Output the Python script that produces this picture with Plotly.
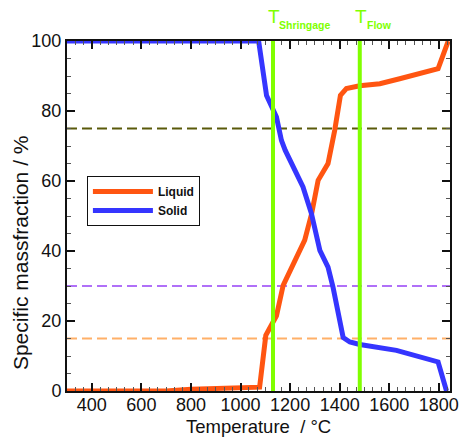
import plotly.graph_objects as go

# ---- data ----
liquid_T = [300, 700, 800, 1000, 1077, 1102, 1145, 1172, 1259, 1287, 1313, 1353, 1380, 1403, 1427, 1481, 1562, 1642, 1797, 1838]
liquid_pct = [0, 0, 0.5, 0.9, 1.1, 15.9, 21.5, 30.2, 43.1, 50.7, 60.2, 65.0, 74.5, 84.5, 86.4, 87.2, 87.8, 89.2, 92.1, 100]

solid_T = [300, 1073, 1105, 1125, 1145, 1165, 1180, 1252, 1286, 1320, 1353, 1373, 1398, 1414, 1441, 1481, 1629, 1797, 1831]
solid_pct = [100, 100, 84.4, 81.6, 78.3, 71.6, 68.8, 58.3, 50.7, 40.2, 35.4, 29.7, 20.2, 15.3, 14.0, 13.3, 11.6, 8.3, 0]

series_names = ["Liquid", "Solid"]
series_colors = ["#FF5511", "#3535FF"]

T_shrinkage = 1131
T_flow = 1481
marker_labels = ["Shringage", "Flow"]

ref_levels = [75, 30, 15]
ref_colors = ["#5A5A0A", "#B070F8", "#FFB068"]

x_range = [300, 1845]
y_range = [0, 100]

GREEN = "#80FF00"
FONT = "Liberation Sans, Arial, Helvetica, sans-serif"

fig = go.Figure()

fig.add_trace(go.Scatter(x=liquid_T, y=liquid_pct, mode="lines", name=series_names[0],
                         line=dict(color=series_colors[0], width=5)))
fig.add_trace(go.Scatter(x=solid_T, y=solid_pct, mode="lines", name=series_names[1],
                         line=dict(color=series_colors[1], width=5)))

# dashed reference levels
for lvl, col in zip(ref_levels, ref_colors):
    fig.add_shape(type="line", xref="paper", x0=0, x1=1, yref="y", y0=lvl, y1=lvl,
                  line=dict(color=col, width=2, dash="10px,5px"), layer="below")

# vertical temperature markers
for tv in [T_shrinkage, T_flow]:
    fig.add_shape(type="line", xref="x", x0=tv, x1=tv, yref="y", y0=0, y1=100,
                  line=dict(color=GREEN, width=4), layer="above")

# labels T_sub
for tv, lab, subshift in zip([T_shrinkage, T_flow], marker_labels, [4, 5]):
    fig.add_annotation(x=tv, xref="x", y=1.0686, yref="paper", text="T", showarrow=False,
                       xanchor="center", yanchor="middle", xshift=1,
                       font=dict(family=FONT, size=19, color=GREEN))
    fig.add_annotation(x=tv, xref="x", y=1.047, yref="paper", text="<b>" + lab + "</b>",
                       showarrow=False, xanchor="left", yanchor="middle", xshift=subshift,
                       font=dict(family=FONT, size=10.5, color=GREEN))

# axis titles as annotations
fig.add_annotation(x=0.4997, xref="paper", y=-0.1, yref="paper", text="Temperature  / °C",
                   showarrow=False, xanchor="center", yanchor="middle",
                   font=dict(family=FONT, size=18.5, color="#111111"))
fig.add_annotation(x=-0.1227, xref="paper", y=0.394, yref="paper", text="Specific massfraction / %",
                   showarrow=False, xanchor="center", yanchor="middle", textangle=-90,
                   font=dict(family=FONT, size=21, color="#111111"))

axis_common = dict(showline=True, linecolor="#111111", linewidth=2, mirror="ticks",
                   ticks="inside", ticklen=8, tickwidth=1.5, tickcolor="#111111",
                   showgrid=False, zeroline=False, automargin=False,
                   tickfont=dict(family=FONT, size=18, color="#111111"))

fig.update_xaxes(range=x_range, tick0=0, dtick=200, ticklabelstandoff=-4,
                 minor=dict(dtick=200 / 6, ticklen=4, tickwidth=1, tickcolor="#555555", ticks="inside"),
                 **axis_common)
fig.update_yaxes(range=y_range, tick0=0, dtick=20,
                 minor=dict(dtick=5, ticklen=4, tickwidth=1, tickcolor="#555555", ticks="inside"),
                 **axis_common)

fig.update_layout(
    width=460, height=439, autosize=False,
    margin=dict(l=67, r=10, t=41, b=48),
    paper_bgcolor="white", plot_bgcolor="white",
    showlegend=True,
    legend=dict(x=0.052, y=0.614, xanchor="left", yanchor="top",
                bgcolor="white", bordercolor="#111111", borderwidth=1,
                font=dict(family=FONT, size=12, color="#111111", weight="bold"),
                itemwidth=60, tracegroupgap=0),
)

# remove the default 8px page margin so the figure fills the window exactly
post = ("document.body.style.margin='0';document.body.style.overflow='hidden';"
        "var gd=document.getElementById('{plot_id}');"
        "Plotly.relayout(gd,{autosize:false,width:460,height:439});")
fig.write_html("out.html", config={"displayModeBar": False, "responsive": False},
               post_script=post)
